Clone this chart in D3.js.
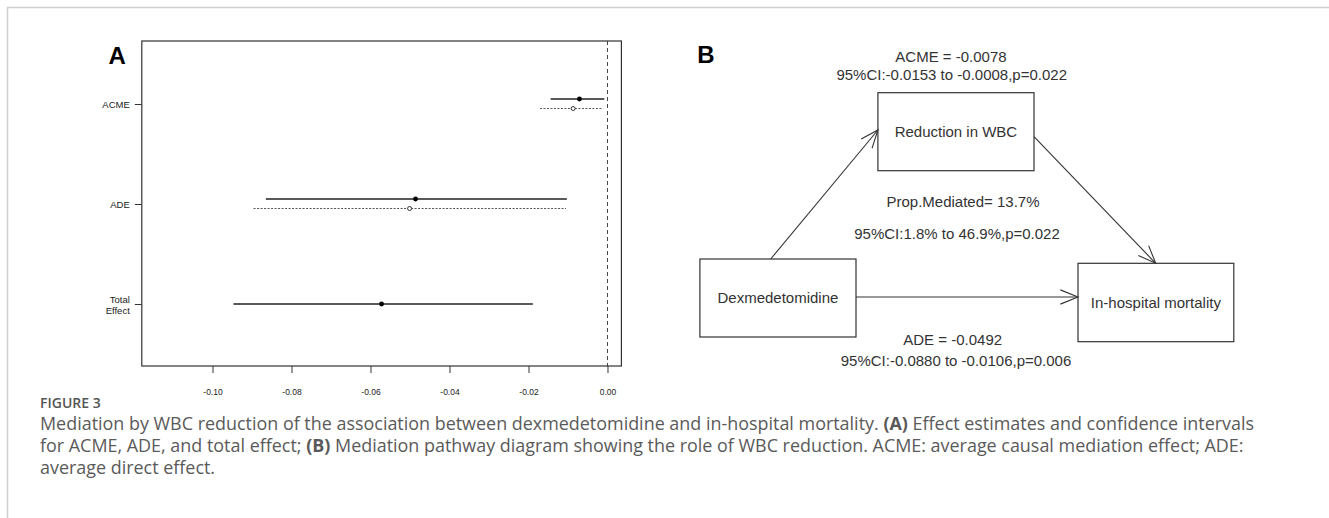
<!DOCTYPE html>
<html><head><meta charset="utf-8">
<script src="https://cdn.jsdelivr.net/npm/d3@7"></script>
<style>body{margin:0;background:#fff} svg{display:block}</style>
</head><body><svg id="c" width="1329" height="518"></svg>
<script>
// ---------- data ----------
const effects = ["ACME", "ADE", "Total Effect"];
const treatedEst = [-0.0071, -0.0486, -0.0572];
const treatedLo  = [-0.0144, -0.0865, -0.0947];
const treatedHi  = [-0.0008, -0.0103, -0.0189];
const controlEst = [-0.0087, -0.0501, null];
const controlLo  = [-0.0171, -0.0896, null];
const controlHi  = [-0.0011, -0.0105, null];
const xTicks = [-0.10, -0.08, -0.06, -0.04, -0.02, 0.00];

const nodeLabels = ["Dexmedetomidine", "Reduction in WBC", "In-hospital mortality"];
const acmeText = ["ACME = -0.0078", "95%CI:-0.0153 to -0.0008,p=0.022"];
const propText = ["Prop.Mediated= 13.7%", "95%CI:1.8% to 46.9%,p=0.022"];
const adeText  = ["ADE = -0.0492", "95%CI:-0.0880 to -0.0106,p=0.006"];
const panelLabels = ["A", "B"];
const captionTitle = "FIGURE 3";
const captionLines = [
  [["Mediation by WBC reduction of the association between dexmedetomidine and in-hospital mortality. ", false], ["(A)", true], [" Effect estimates and confidence intervals", false]],
  [["for ACME, ADE, and total effect; ", false], ["(B)", true], [" Mediation pathway diagram showing the role of WBC reduction. ACME: average causal mediation effect; ADE:", false]],
  [["average direct effect.", false]]
];

// ---------- layout ----------
const svg = d3.select("#c");
const F = "'Liberation Sans', Arial, Helvetica, sans-serif";

// figure frame
svg.append("path").attr("d", "M7.5,518 V7.5 H1329")
  .attr("fill", "none").attr("stroke", "#cfcfcf").attr("stroke-width", 1.5);

// ---------- Panel A ----------
const box = {l: 141.8, r: 621.4, t: 41, b: 366};
const x = d3.scaleLinear().domain([-0.1179, 0.00352]).range([box.l, box.r]);
const y = d3.scaleLinear().domain([0.37, 3.62]).range([box.t, box.b]);
const pos = i => i + 1;

const gA = svg.append("g");
gA.append("text").attr("x", 108.6).attr("y", 64.3).text(panelLabels[0])
  .attr("font-family", F).attr("font-weight", "bold").attr("font-size", 24).attr("fill", "#000");

// zero line
gA.append("line").attr("x1", x(0)).attr("x2", x(0)).attr("y1", box.t).attr("y2", box.b)
  .attr("stroke", "#444").attr("stroke-width", 1).attr("stroke-dasharray", "4,3");

// intervals
const rows = effects.map((e, i) => ({i, e}));
const tOff = i => controlEst[i] === null ? 0 : -0.05;
const cOff = 0.045;

gA.selectAll(".tl").data(rows).join("line")
  .attr("x1", d => x(treatedLo[d.i])).attr("x2", d => x(treatedHi[d.i]))
  .attr("y1", d => y(pos(d.i) + tOff(d.i))).attr("y2", d => y(pos(d.i) + tOff(d.i)))
  .attr("stroke", "#222").attr("stroke-width", d => controlEst[d.i] === null ? 1.7 : 1.3);
gA.selectAll(".tp").data(rows).join("circle")
  .attr("cx", d => x(treatedEst[d.i])).attr("cy", d => y(pos(d.i) + tOff(d.i)))
  .attr("r", 2.4).attr("fill", "#000");

const crow = rows.filter(d => controlEst[d.i] !== null);
gA.selectAll(".cl").data(crow).join("line")
  .attr("x1", d => x(controlLo[d.i])).attr("x2", d => x(controlHi[d.i]))
  .attr("y1", d => y(pos(d.i) + cOff)).attr("y2", d => y(pos(d.i) + cOff))
  .attr("stroke", "#555").attr("stroke-width", 1).attr("stroke-dasharray", "2,1.5");
gA.selectAll(".cp").data(crow).join("circle")
  .attr("cx", d => x(controlEst[d.i])).attr("cy", d => y(pos(d.i) + cOff))
  .attr("r", 2).attr("fill", "#fff").attr("stroke", "#333").attr("stroke-width", 1);

// box
gA.append("rect").attr("x", box.l).attr("y", box.t).attr("width", box.r - box.l).attr("height", box.b - box.t)
  .attr("fill", "none").attr("stroke", "#333").attr("stroke-width", 1.2);

// x axis
const xa = gA.append("g").attr("transform", `translate(0,${box.b})`)
  .call(d3.axisBottom(x).tickValues(xTicks).tickSize(7).tickPadding(16).tickFormat(d => d.toFixed(2)));
xa.select(".domain").remove();
xa.selectAll("line").attr("stroke", "#333");
xa.selectAll("text").attr("font-family", F).attr("font-size", 8.5).attr("fill", "#222");

// y axis
const ya = gA.append("g").attr("transform", `translate(${box.l},0)`)
  .call(d3.axisLeft(d3.scalePoint().domain(effects).range([y(1), y(3)])).tickSize(7).tickFormat(""));
ya.select(".domain").remove();
ya.selectAll("line").attr("stroke", "#333");
ya.selectAll(".tick").each(function(d) {
  const words = d.split(" ");
  const t = d3.select(this).append("text").attr("x", -12).attr("text-anchor", "end")
    .attr("font-family", F).attr("font-size", 9.5).attr("fill", "#222");
  const n = words.length;
  words.forEach((w, k) => t.append("tspan").attr("x", -12)
    .attr("y", (k - (n - 1) / 2) * 11 + 3.5).text(w));
});

// ---------- Panel B ----------
const gB = svg.append("g");
gB.append("text").attr("x", 697.2).attr("y", 63.3).text(panelLabels[1])
  .attr("font-family", F).attr("font-weight", "bold").attr("font-size", 24).attr("fill", "#000");

const nodeBoxes = [
  {x0: 699.9, x1: 856, y0: 259, y1: 337, ty: 303.3},
  {x0: 877.9, x1: 1034, y0: 92.7, y1: 170.7, ty: 137},
  {x0: 1078, x1: 1233.8, y0: 263.3, y1: 341.7, ty: 308.3}
];
nodeBoxes.forEach((b, i) => {
  gB.append("rect").attr("x", b.x0).attr("y", b.y0).attr("width", b.x1 - b.x0).attr("height", b.y1 - b.y0)
    .attr("fill", "none").attr("stroke", "#333").attr("stroke-width", 1.2);
  gB.append("text").attr("x", (b.x0 + b.x1) / 2).attr("y", b.ty).attr("text-anchor", "middle")
    .attr("font-family", F).attr("font-size", 15).attr("fill", "#333").text(nodeLabels[i]);
});

function arrow(x1, y1, x2, y2) {
  const a = Math.atan2(y2 - y1, x2 - x1), L = 19, h = 22 * Math.PI / 180;
  gB.append("line").attr("x1", x1).attr("y1", y1).attr("x2", x2).attr("y2", y2)
    .attr("stroke", "#333").attr("stroke-width", 1.1);
  const p = [a + Math.PI - h, a + Math.PI + h].map(t => [x2 + L * Math.cos(t), y2 + L * Math.sin(t)]);
  gB.append("path").attr("d", `M${p[0][0]},${p[0][1]} L${x2},${y2} L${p[1][0]},${p[1][1]}`)
    .attr("fill", "none").attr("stroke", "#333").attr("stroke-width", 1.1);
}
arrow(770.7, nodeBoxes[0].y0, nodeBoxes[1].x0, 130);
arrow(nodeBoxes[1].x1, 136.7, 1155.7, nodeBoxes[2].y0);
arrow(nodeBoxes[0].x1, 297, nodeBoxes[2].x0, 297);

function textBlock(lines, cx, ys) {
  lines.forEach((s, k) => gB.append("text").attr("x", cx[k]).attr("y", ys[k]).attr("text-anchor", "middle")
    .attr("font-family", F).attr("font-size", 15).attr("fill", "#333").text(s));
}
textBlock(acmeText, [951, 951.7], [62.3, 80]);
textBlock(propText, [963, 957], [207.3, 239.3]);
textBlock(adeText, [952.7, 956], [345, 365.7]);

// ---------- caption ----------
const CF = "'Open Sans', 'Noto Sans', sans-serif";
svg.append("text").attr("x", 40).attr("y", 408).text(captionTitle)
  .attr("font-family", CF).attr("font-weight", 600).attr("font-size", 14).attr("fill", "#555");
const capYs = [429.5, 451.5, 473.5];
const capTexts = captionLines.map((segs, k) => {
  const t = svg.append("text").attr("x", 40).attr("y", capYs[k])
    .attr("font-family", CF).attr("font-size", 16).attr("fill", "#5a5a5a");
  segs.forEach(([s, b]) => t.append("tspan").attr("font-weight", b ? 700 : 400).text(s));
  return t;
});
const w0 = capTexts[0].node().getComputedTextLength();
const fs = 16 * (1255 - 40) / w0;
capTexts.forEach(t => t.attr("font-size", fs));
</script></body></html>
